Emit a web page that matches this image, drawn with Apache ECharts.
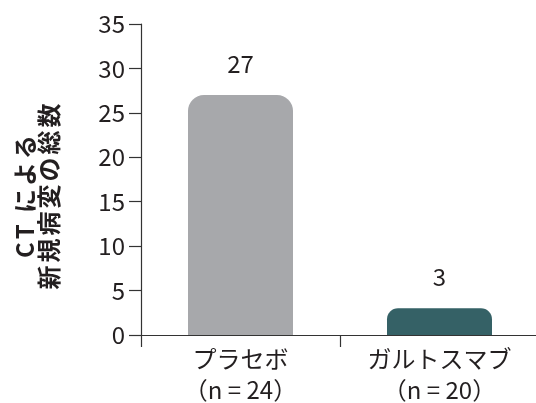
<!DOCTYPE html>
<html>
<head>
<meta charset="utf-8">
<script src="https://cdn.jsdelivr.net/npm/echarts@6/dist/echarts.min.js"></script>
<style>
  html, body { margin: 0; padding: 0; background: #fff; }
  #chart { width: 536px; height: 403px; }
</style>
</head>
<body>
<div id="chart"></div>
<script>
// Groups, lesion totals and the y-axis scale
const groups = ['プラセボ\n（n = 24）', 'ガルトスマブ\n（n = 20）'];
const lesionTotals = [27, 3];
const barColors = ['#a7a8ab', '#356166'];
const yTicks = { min: 0, max: 35, interval: 5 };
const yTitleLines = ['CT による', '新規病変の総数'];

const FONT = '"Noto Sans CJK JP", "Noto Sans", sans-serif';

// Wrap each character in a rich token so the title gets a little tracking
const trackedTitle = yTitleLines
  .map(line => Array.from(line).map(ch => '{t|' + ch + '}').join(''))
  .join('\n');

const chart = echarts.init(document.getElementById('chart'), null, { renderer: 'canvas' });

chart.setOption({
  animation: false,
  backgroundColor: '#ffffff',
  grid: {
    left: 141, top: 24, width: 398, height: 311,
    containLabel: false, outerBoundsMode: 'none'
  },
  xAxis: {
    type: 'category',
    data: groups,
    boundaryGap: true,
    axisLine: { lineStyle: { color: '#333333', width: 1.2 } },
    axisTick: { show: true, length: 12, inside: false, lineStyle: { color: '#333333', width: 1.2 } },
    axisLabel: {
      color: '#231f20', fontFamily: FONT, fontSize: 24, lineHeight: 31, margin: 8, interval: 0
    }
  },
  yAxis: {
    type: 'value',
    min: yTicks.min, max: yTicks.max, interval: yTicks.interval,
    name: trackedTitle,
    nameLocation: 'middle',
    nameGap: 80,
    nameRotate: 90,
    nameTextStyle: {
      color: '#231f20', fontFamily: FONT, fontSize: 24, fontWeight: 'bold', lineHeight: 24,
      align: 'center', padding: [0, 34, 0, 0],
      rich: {
        t: {
          color: '#231f20', fontFamily: FONT, fontSize: 24, fontWeight: 'bold',
          lineHeight: 24, padding: [0, 1.5, 0, 1.5]
        }
      }
    },
    splitLine: { show: false },
    axisLine: { show: true, lineStyle: { color: '#333333', width: 1.2 } },
    axisTick: { show: true, length: 12, lineStyle: { color: '#333333', width: 1.2 } },
    axisLabel: { color: '#231f20', fontFamily: FONT, fontSize: 24, margin: 16 }
  },
  series: [{
    type: 'bar',
    barWidth: 105,
    data: lesionTotals.map((v, i) => ({
      value: v,
      itemStyle: { color: barColors[i], borderRadius: i === 0 ? [16, 16, 0, 0] : [11, 11, 0, 0] }
    })),
    label: {
      show: true, position: 'top', distance: 19,
      color: '#231f20', fontFamily: FONT, fontSize: 24
    }
  }]
});
</script>
</body>
</html>
